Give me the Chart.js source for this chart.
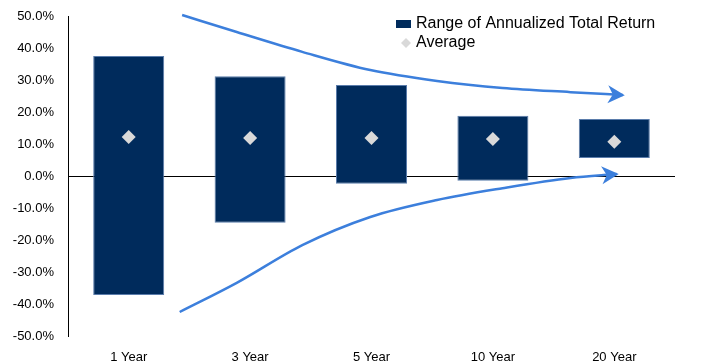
<!DOCTYPE html>
<html>
<head>
<meta charset="utf-8">
<script src="https://cdn.jsdelivr.net/npm/chart.js"></script>
<style>
  html, body { margin: 0; padding: 0; background: #fff; }
  #wrap { width: 706px; height: 364px; }
</style>
</head>
<body>
<div id="wrap"><canvas id="myChart"></canvas></div>
<script>
var periods = ["1 Year", "3 Year", "5 Year", "10 Year", "20 Year"];
var lowValues = [-37.2, -14.6, -2.4, -1.5, 5.6];
var highValues = [37.5, 31.2, 28.4, 18.8, 17.8];
var avgValues = [12.2, 11.9, 11.9, 11.6, 10.7];
var yTicks = [-50, -40, -30, -20, -10, 0, 10, 20, 30, 40, 50];

// arrows, in (category index, percent)
var upperArrow = [[0.44, 50.3], [0.89, 45], [1.43, 38.8], [1.99, 33.1], [2.54, 29.7], [3.08, 27.5], [3.64, 26.2], [4.07, 25.3]];
var lowerArrow = [[0.42, -42.5], [0.89, -33.4], [1.43, -21.6], [1.99, -12.8], [2.54, -7.5], [3.08, -3.8], [3.64, -0.6], [4.02, 0.6]];

var barColor = "#002b5c";
var avgColor = "#d9d9d9";
var arrowColor = "#3c7fdc";
var font = "'Liberation Sans', Arial, sans-serif";

var ranges = periods.map(function (p, i) { return [lowValues[i], highValues[i]]; });
function toPts(a) { return a.map(function (p) { return { x: p[0], y: p[1] }; }); }

var arrowHeads = {
  id: "arrowHeads",
  afterDatasetsDraw: function (chart) {
    var ctx = chart.ctx;
    [2, 3].forEach(function (di) {
      var pts = chart.getDatasetMeta(di).data;
      var a = pts[pts.length - 2], b = pts[pts.length - 1];
      var ang = Math.atan2(b.y - a.y, b.x - a.x);
      ctx.save();
      ctx.translate(b.x, b.y);
      ctx.rotate(ang);
      ctx.fillStyle = arrowColor;
      ctx.beginPath();
      ctx.moveTo(2, 0);
      ctx.lineTo(-15, -9);
      ctx.lineTo(-10, 0);
      ctx.lineTo(-15, 9);
      ctx.closePath();
      ctx.fill();
      ctx.restore();
    });
  }
};

var legendBox = {
  id: "legendBox",
  afterDraw: function (chart) {
    var ctx = chart.ctx;
    ctx.save();
    ctx.font = "16px " + font;
    ctx.textBaseline = "middle";
    ctx.fillStyle = barColor;
    ctx.fillRect(396, 20, 15, 8);
    ctx.fillStyle = "#000";
    ctx.fillText(chart.data.datasets[0].label, 416, 24);
    ctx.fillStyle = avgColor;
    ctx.beginPath();
    ctx.moveTo(406, 38); ctx.lineTo(411, 43); ctx.lineTo(406, 48); ctx.lineTo(401, 43);
    ctx.closePath();
    ctx.fill();
    ctx.fillStyle = "#000";
    ctx.fillText(chart.data.datasets[1].label, 416, 43);
    ctx.restore();
  }
};

new Chart("myChart", {
  type: "bar",
  data: {
    labels: periods,
    datasets: [
      {
        label: "Range of Annualized Total Return",
        data: ranges,
        backgroundColor: barColor,
        borderColor: "#5a7cab",
        borderWidth: 1,
        borderSkipped: false,
        grouped: false,
        barPercentage: 0.585,
        categoryPercentage: 1,
        order: 2
      },
      {
        type: "line",
        label: "Average",
        data: avgValues,
        showLine: false,
        pointStyle: "rectRot",
        pointRadius: 7,
        pointBackgroundColor: avgColor,
        pointBorderWidth: 0,
        order: 1
      },
      {
        type: "line",
        label: "up",
        data: toPts(upperArrow),
        xAxisID: "x2",
        borderColor: arrowColor,
        borderWidth: 2.5,
        pointRadius: 0,
        cubicInterpolationMode: "monotone",
        clip: false,
        order: 0
      },
      {
        type: "line",
        label: "down",
        data: toPts(lowerArrow),
        xAxisID: "x2",
        borderColor: arrowColor,
        borderWidth: 2.5,
        pointRadius: 0,
        cubicInterpolationMode: "monotone",
        clip: false,
        order: 0
      }
    ]
  },
  options: {
    responsive: true,
    maintainAspectRatio: false,
    animation: false,
    layout: { padding: { top: 16, right: 31, left: 0, bottom: 0 } },
    plugins: { legend: { display: false }, tooltip: { enabled: false } },
    scales: {
      x: {
        grid: { display: false },
        border: { display: false },
        ticks: { color: "#000", font: { family: font, size: 13 }, padding: 6 },
        afterFit: function (s) { s.height = 28; }
      },
      x2: {
        type: "linear",
        display: false,
        offset: false,
        min: -0.5,
        max: 4.5
      },
      y: {
        min: -50,
        max: 50,
        afterBuildTicks: function (s) { s.ticks = yTicks.map(function (v) { return { value: v }; }); },
        ticks: {
          color: "#000",
          font: { family: font, size: 13 },
          padding: 14,
          callback: function (v) { return v.toFixed(1) + "%"; }
        },
        grid: {
          drawTicks: false,
          color: function (c) { return c.tick && c.tick.value === 0 ? "#000" : "rgba(0,0,0,0)"; },
          lineWidth: 1
        },
        border: { display: true, color: "#000" },
        afterFit: function (s) { s.width = 68; s.paddingTop = 0; s.paddingBottom = 0; }
      }
    }
  },
  plugins: [arrowHeads, legendBox]
});
</script>
</body>
</html>
